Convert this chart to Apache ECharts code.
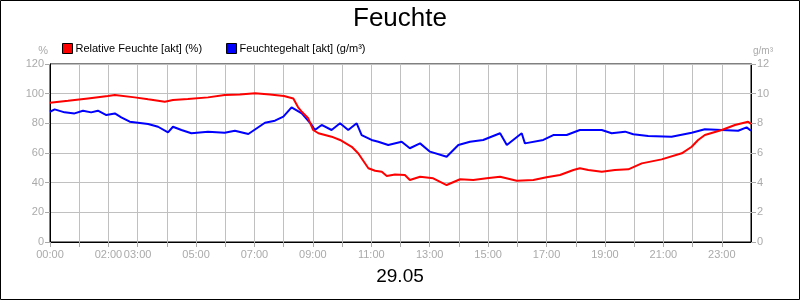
<!DOCTYPE html>
<html>
<head>
<meta charset="utf-8">
<script src="https://cdn.jsdelivr.net/npm/echarts@6/dist/echarts.min.js"></script>
<style>
  html, body { margin: 0; padding: 0; background: #fff; }
  #chart { width: 800px; height: 300px; }
</style>
</head>
<body>
<div id="chart"></div>
<script>
// Stunden, die unten beschriftet werden
const hourLabels = [0, 2, 3, 5, 7, 9, 11, 13, 15, 17, 19, 21, 23]

// Relative Feuchte [%] – [Stunde, Wert]
const relFeuchte = [
  [0.0, 93.9], [0.62, 95.2], [1.3, 96.8], [1.98, 98.4], [2.22, 99.1], [2.9, 97.5],
  [3.36, 96.2], [3.93, 94.6], [4.21, 95.7], [4.72, 96.4], [5.41, 97.5], [5.98, 99.1],
  [6.5, 99.5], [7.02, 100.2], [7.53, 99.5], [8.01, 98.4], [8.33, 96.8], [8.49, 91],
  [8.62, 87.8], [8.84, 83.4], [9.01, 75.5], [9.19, 73.3], [9.64, 71], [9.93, 68.8],
  [10.33, 64.2], [10.55, 59.8], [10.9, 49.7], [11.13, 48], [11.36, 47.4], [11.53, 44.5],
  [11.81, 45.5], [12.15, 45.2], [12.32, 41.8], [12.67, 44], [13.12, 42.9], [13.58, 38.4],
  [14.04, 42.3], [14.49, 41.8], [14.95, 42.9], [15.41, 44], [15.98, 41.3], [16.55, 41.8],
  [17.0, 43.6], [17.46, 45.2], [17.92, 48.5], [18.14, 49.7], [18.43, 48.5], [18.89, 47.4],
  [19.34, 48.5], [19.8, 49], [20.26, 53], [20.94, 55.7], [21.63, 59.8], [21.97, 64.2],
  [22.19, 68.8], [22.42, 72.1], [23.0, 75.5], [23.45, 78.9], [23.9, 81.1], [24.0, 79.5]
]

// Feuchtegehalt [g/m³] – [Stunde, Wert]
const feuchtegehalt = [
  [0.0, 8.78], [0.16, 8.94], [0.5, 8.74], [0.84, 8.67], [1.13, 8.85], [1.41, 8.74],
  [1.64, 8.85], [1.93, 8.56], [2.22, 8.67], [2.44, 8.4], [2.73, 8.11], [3.01, 8.04],
  [3.36, 7.95], [3.7, 7.77], [4.04, 7.39], [4.21, 7.77], [4.5, 7.55], [4.84, 7.33],
  [5.41, 7.44], [5.98, 7.37], [6.33, 7.5], [6.79, 7.28], [7.36, 8.04], [7.7, 8.18],
  [7.99, 8.45], [8.27, 9.08], [8.62, 8.67], [8.96, 7.89], [9.07, 7.55], [9.3, 7.89],
  [9.64, 7.55], [9.93, 8.0], [10.21, 7.55], [10.5, 8.0], [10.67, 7.21], [11.01, 6.88],
  [11.24, 6.76], [11.58, 6.54], [12.04, 6.76], [12.32, 6.32], [12.67, 6.65], [13.01, 6.09],
  [13.58, 5.75], [13.98, 6.54], [14.38, 6.76], [14.83, 6.88], [15.41, 7.33], [15.64, 6.54],
  [16.15, 7.33], [16.26, 6.65], [16.89, 6.88], [17.23, 7.21], [17.69, 7.21], [18.14, 7.55],
  [18.89, 7.55], [19.23, 7.33], [19.69, 7.44], [19.97, 7.26], [20.48, 7.15], [21.28, 7.1],
  [21.97, 7.37], [22.42, 7.6], [23.0, 7.55], [23.56, 7.5], [23.85, 7.73], [24.0, 7.5]
]

const font = '"Liberation Sans", Arial, sans-serif'
const grau = '#aaaaaa'

var myChart = echarts.init(document.getElementById('chart'))

const option = {
  animation: false,
  backgroundColor: '#fff',
  textStyle: { fontFamily: font },
  title: [
    {
      text: 'Feuchte',
      left: 'center',
      top: 1,
      textStyle: { fontSize: 26, fontWeight: 'normal', color: '#000', fontFamily: font }
    },
    {
      text: '29.05',
      left: 'center',
      top: 262,
      textStyle: { fontSize: 19, fontWeight: 'normal', color: '#000', fontFamily: font }
    }
  ],
  legend: {
    left: 57,
    top: 38,
    itemWidth: 10,
    itemHeight: 10,
    itemGap: 24,
    icon: 'rect',
    textStyle: { fontSize: 11, color: '#000', fontFamily: font, padding: [0, 0, 0, -2] },
    data: [
      { name: 'Relative Feuchte [akt] (%)', itemStyle: { color: '#ff0000', borderColor: '#000', borderWidth: 1 } },
      { name: 'Feuchtegehalt [akt] (g/m³)', itemStyle: { color: '#0000ff', borderColor: '#000', borderWidth: 1 } }
    ]
  },
  grid: {
    left: 50,
    right: 49,
    top: 64,
    bottom: 58,
    show: true,
    borderColor: '#000',
    borderWidth: 1
  },
  xAxis: {
    type: 'value',
    min: 0,
    max: 24,
    interval: 1,
    axisLine: { lineStyle: { color: '#000' } },
    axisTick: { show: true, length: 5, lineStyle: { color: grau } },
    splitLine: { show: true, lineStyle: { color: '#c0c0c0' } },
    axisLabel: {
      color: grau,
      fontSize: 11,
      margin: 7,
      showMaxLabel: false,
      formatter: function(v) {
        if (hourLabels.indexOf(v) < 0) return ''
        return (v < 10 ? '0' : '') + v + ':00'
      }
    }
  },
  yAxis: [
    {
      type: 'value',
      name: '%',
      nameGap: 8,
      nameTextStyle: { color: grau, fontSize: 11, align: 'right', padding: [0, 2, 0, 0] },
      min: 0,
      max: 120,
      interval: 20,
      axisLine: { show: true, lineStyle: { color: '#000' } },
      axisTick: { show: true, length: 5, lineStyle: { color: grau } },
      splitLine: { show: true, lineStyle: { color: '#c0c0c0' } },
      axisLabel: { color: grau, fontSize: 11, margin: 6 }
    },
    {
      type: 'value',
      name: 'g/m³',
      nameGap: 8,
      nameTextStyle: { color: grau, fontSize: 10, align: 'left', padding: [0, 0, 0, 2] },
      min: 0,
      max: 12,
      interval: 2,
      position: 'right',
      axisLine: { show: true, lineStyle: { color: '#000' } },
      axisTick: { show: true, length: 5, lineStyle: { color: grau } },
      splitLine: { show: false },
      axisLabel: { color: grau, fontSize: 11, margin: 6 }
    }
  ],
  graphic: [
    {
      type: 'rect',
      shape: { x: 0.5, y: 0.5, width: 799, height: 299 },
      style: { fill: 'none', stroke: '#000', lineWidth: 1 },
      silent: true
    }
  ],
  series: [
    {
      name: 'Relative Feuchte [akt] (%)',
      type: 'line',
      yAxisIndex: 0,
      data: relFeuchte,
      showSymbol: false,
      color: '#ff0000',
      lineStyle: { width: 2, color: '#ff0000' },
      z: 3
    },
    {
      name: 'Feuchtegehalt [akt] (g/m³)',
      type: 'line',
      yAxisIndex: 1,
      data: feuchtegehalt,
      showSymbol: false,
      color: '#0000ff',
      lineStyle: { width: 2, color: '#0000ff' },
      z: 2
    }
  ]
}

myChart.setOption(option)
</script>
</body>
</html>
